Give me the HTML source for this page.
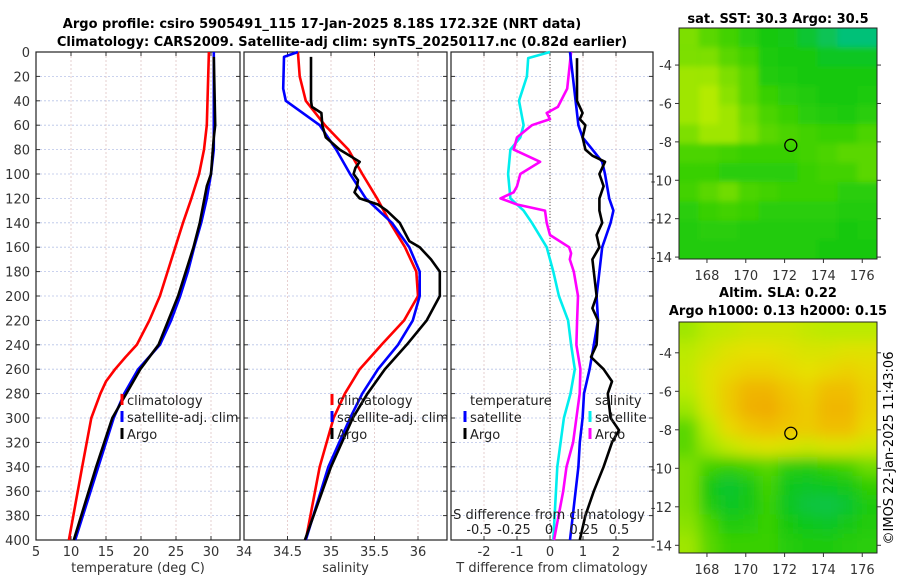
<!DOCTYPE html>
<html><head><meta charset="utf-8">
<style>
html,body{margin:0;padding:0;background:#fff;}
svg{display:block;font-family:"DejaVu Sans","Liberation Sans",sans-serif;}
</style></head>
<body>
<svg id="chart" width="900" height="580" viewBox="0 0 900 580" xmlns="http://www.w3.org/2000/svg">
<defs>
<filter id="blur2" x="-5%" y="-5%" width="110%" height="110%"><feGaussianBlur stdDeviation="7"/></filter>
<filter id="blur1" x="-5%" y="-5%" width="110%" height="110%"><feGaussianBlur stdDeviation="3"/></filter>
<clipPath id="clipM1"><rect x="679" y="28" width="198" height="231"/></clipPath>
<clipPath id="clipM2"><rect x="679" y="322" width="198" height="231"/></clipPath>
</defs>
<text x="322" y="28" font-size="13" font-weight="bold" text-anchor="middle">Argo profile: csiro 5905491_115 17-Jan-2025 8.18S 172.32E (NRT data)</text>
<text x="342" y="46" font-size="13" font-weight="bold" text-anchor="middle">Climatology: CARS2009. Satellite-adj clim: synTS_20250117.nc (0.82d earlier)</text>
<text x="778" y="23" font-size="13" font-weight="bold" text-anchor="middle">sat. SST: 30.3 Argo: 30.5</text>
<text x="778" y="297" font-size="13" font-weight="bold" text-anchor="middle">Altim. SLA: 0.22</text>
<text x="778" y="315" font-size="13" font-weight="bold" text-anchor="middle">Argo h1000: 0.13 h2000: 0.15</text>
<text x="0" y="0" font-size="13" text-anchor="middle" transform="translate(893,448) rotate(-90)">©IMOS 22-Jan-2025 11:43:06</text>
<g id="layer"></g>
</svg>
<script>
// ---------- data ----------
const depthTicks=[0,20,40,60,80,100,120,140,160,180,200,220,240,260,280,300,320,340,360,380,400];
const tempTicks=[5,10,15,20,25,30];
const salTicks=[34,34.5,35,35.5,36];
const tdiffTicks=[-2,-1,0,1,2];
const sdiffTicks=[-0.5,-0.25,0,0.25,0.5];
const sdiffLabels=["-0.5","-0.25","0","0.25","0.5"];

const tClimZ=[0,60,80,100,120,140,160,180,200,220,240,250,260,270,280,300,340,400];
const tClimV=[29.7,29.4,29.0,28.3,27.2,26.0,24.9,23.8,22.7,21.2,19.4,17.8,16.3,15.0,14.2,12.9,11.6,9.7];
const tSatZ=[0,80,100,120,140,160,180,200,220,240,260,280,300,340,400];
const tSatV=[30.4,30.4,30.0,29.4,28.6,27.6,26.7,25.6,24.3,22.7,19.6,17.6,16.1,13.9,10.6];
const tArgoZ=[4,60,70,100,110,140,160,200,240,260,300,340,400];
const tArgoV=[30.4,30.6,30.4,30.0,29.4,28.4,27.5,25.3,22.5,19.9,15.9,13.6,10.4];

const sClimZ=[0,20,40,60,80,100,120,140,160,180,200,220,240,260,280,300,340,400];
const sClimV=[34.62,34.64,34.71,34.93,35.2,35.36,35.53,35.68,35.85,35.98,36.0,35.84,35.58,35.33,35.16,35.03,34.87,34.71];
const sSatZ=[0,4,30,40,60,80,100,120,140,160,180,200,220,240,260,280,300,340,400];
const sSatV=[34.62,34.46,34.45,34.48,34.87,35.06,35.22,35.4,35.7,35.9,36.02,36.02,35.94,35.77,35.54,35.36,35.22,34.97,34.71];
const sArgoZ=[4,40,45,50,60,70,80,90,95,100,105,110,115,120,125,130,140,155,160,170,180,200,220,240,260,280,300,340,400];
const sArgoV=[34.77,34.77,34.78,34.89,34.9,34.94,35.1,35.33,35.28,35.26,35.31,35.3,35.27,35.33,35.54,35.64,35.79,35.9,36.02,36.15,36.25,36.25,36.1,35.87,35.62,35.42,35.25,35.0,34.7];

const dTSatZ=[0,5,20,40,60,70,80,100,120,130,140,160,180,200,220,240,260,280,300,340,400];
const dTSatV=[0.0,-0.66,-0.7,-0.94,-0.8,-0.9,-1.2,-1.27,-1.2,-0.8,-0.55,-0.1,0.1,0.27,0.55,0.64,0.75,0.62,0.42,0.22,0.1];
const dTArgoZ=[0,30,45,50,55,60,70,80,90,100,110,115,120,125,130,140,150,160,165,170,180,200,220,240,260,280,300,320,340,360,400];
const dTArgoV=[0.64,0.52,0.24,-0.1,0.0,-0.55,-1.0,-1.1,-0.3,-0.9,-1.0,-1.1,-1.5,-1.0,-0.15,-0.1,0.0,0.58,0.64,0.6,0.72,0.85,0.82,0.8,0.92,0.9,0.8,0.7,0.5,0.4,0.12];
const dSSatZ=[0,20,40,60,70,80,90,100,120,130,140,160,180,200,220,240,260,280,300,320,340,360,400];
const dSSatV=[0.15,0.17,0.19,0.21,0.24,0.31,0.38,0.4,0.43,0.46,0.44,0.38,0.36,0.34,0.35,0.32,0.29,0.25,0.24,0.22,0.21,0.19,0.15];
const dSArgoZ=[5,40,50,55,60,70,80,85,90,95,100,110,120,130,140,150,160,170,180,200,210,220,240,250,260,270,280,300,310,320,340,360,380,400];
const dSArgoV=[0.2,0.2,0.24,0.22,0.26,0.24,0.26,0.31,0.4,0.38,0.36,0.39,0.36,0.36,0.38,0.34,0.36,0.31,0.32,0.34,0.31,0.35,0.34,0.3,0.39,0.45,0.42,0.44,0.5,0.45,0.39,0.32,0.26,0.22];

const lonTicks=[168,170,172,174,176];
const latTicks=[-4,-6,-8,-10,-12,-14];
const argoLon=172.32, argoLat=-8.18;
const sstField=[
[0.5,0.45,0.4,0.35,0.3,0.28,0.22,0.15,0.08,0.08],
[0.5,0.5,0.45,0.4,0.32,0.3,0.3,0.25,0.25,0.25],
[0.55,0.55,0.5,0.45,0.33,0.32,0.3,0.3,0.3,0.3],
[0.55,0.58,0.52,0.45,0.38,0.35,0.33,0.3,0.3,0.32],
[0.55,0.58,0.55,0.48,0.42,0.38,0.35,0.33,0.32,0.35],
[0.5,0.55,0.55,0.5,0.45,0.42,0.4,0.38,0.38,0.42],
[0.42,0.42,0.4,0.38,0.38,0.38,0.4,0.42,0.45,0.45],
[0.38,0.38,0.35,0.35,0.35,0.35,0.38,0.4,0.4,0.45],
[0.4,0.45,0.48,0.42,0.4,0.38,0.38,0.38,0.35,0.35],
[0.35,0.38,0.4,0.38,0.35,0.35,0.35,0.35,0.33,0.33],
[0.33,0.35,0.35,0.33,0.33,0.33,0.33,0.33,0.3,0.32],
[0.33,0.33,0.33,0.33,0.33,0.33,0.33,0.3,0.3,0.3]];
const slaField=[
[0.55,0.6,0.62,0.65,0.65,0.65,0.62,0.6,0.6,0.6],
[0.6,0.65,0.7,0.72,0.72,0.7,0.68,0.68,0.7,0.7],
[0.62,0.7,0.75,0.78,0.78,0.75,0.72,0.75,0.78,0.75],
[0.6,0.7,0.8,0.88,0.88,0.82,0.78,0.85,0.85,0.78],
[0.55,0.68,0.8,0.9,0.92,0.85,0.8,0.88,0.88,0.78],
[0.45,0.6,0.75,0.82,0.85,0.82,0.8,0.85,0.85,0.75],
[0.45,0.55,0.62,0.68,0.7,0.68,0.65,0.68,0.68,0.65],
[0.5,0.4,0.36,0.4,0.45,0.35,0.33,0.36,0.4,0.48],
[0.5,0.3,0.22,0.27,0.4,0.26,0.24,0.26,0.28,0.36],
[0.5,0.33,0.24,0.28,0.38,0.25,0.2,0.18,0.22,0.32],
[0.52,0.42,0.32,0.34,0.38,0.3,0.26,0.24,0.27,0.33],
[0.55,0.45,0.38,0.38,0.38,0.34,0.32,0.32,0.34,0.35]];

// ---------- helpers ----------
const NS="http://www.w3.org/2000/svg";
const layer=document.getElementById('layer');
function mk(tag,attrs,parent){const e=document.createElementNS(NS,tag);for(const k in attrs)e.setAttribute(k,attrs[k]);(parent||layer).appendChild(e);return e;}
const Y0=52,Y1=540;
const yS=z=>Y0+(z/400)*(Y1-Y0);
const P1={x0:36,x1:240,sx:v=>36+(v-5)*7};
const P2={x0:244,x1:447,sx:v=>244+(v-34)*87};
const P3={x0:451,x1:653,sx:v=>550+v*33};
const sdx=v=>549+v*140;

function panelFrame(P,name,xTicks,xLabels,xs,title,showY){
  const g=mk('g',{});
  
  
  depthTicks.forEach(d=>{
    const gl=mk('line',{x1:P.x0,x2:P.x1,y1:yS(d),y2:yS(d),stroke:'#b8c4e8','stroke-width':0.8,'stroke-dasharray':'2,2'},g);
    
    
    mk('line',{x1:P.x0,x2:P.x0+4,y1:yS(d),y2:yS(d),stroke:'#333'},g);
    mk('line',{x1:P.x1,x2:P.x1-4,y1:yS(d),y2:yS(d),stroke:'#333'},g);
    if(showY){const t=mk('text',{x:30,y:yS(d)+5,'font-size':13,'text-anchor':'end',fill:'#333'},g);t.textContent=d;
      }
  });
  xTicks.forEach((v,i)=>{
    const x=xs(v);
    const gl=mk('line',{x1:x,x2:x,y1:Y0,y2:Y1,stroke:'#e0c4c4','stroke-width':0.8,'stroke-dasharray':'2,2'},g);
    
    
    mk('line',{x1:x,x2:x,y1:Y1,y2:Y1-4,stroke:'#333'},g);
    mk('line',{x1:x,x2:x,y1:Y0,y2:Y0+4,stroke:'#333'},g);
    const t=mk('text',{x:x,y:556,'font-size':13,'text-anchor':'middle',fill:'#333'},g);t.textContent=xLabels[i];
    
  });
  const r=mk('rect',{x:P.x0,y:Y0,width:P.x1-P.x0,height:Y1-Y0,fill:'none',stroke:'#222','stroke-width':1.2},g);
  
  const tt=mk('text',{x:(P.x0+P.x1)/2,y:572,'font-size':13,'text-anchor':'middle',fill:'#333'},g);tt.textContent=title;
  
}
function series(zs,vs,sx,color,name){
  const pts=zs.map((z,i)=>sx(vs[i]).toFixed(1)+','+yS(z).toFixed(1)).join(' ');
  const p=mk('polyline',{points:pts,fill:'none',stroke:color,'stroke-width':2.6,'stroke-linejoin':'round'});
  
  
}
function legend(x,y,items,name){
  const g=mk('g',{});
  
  
  items.forEach((it,i)=>{
    const yy=y+i*17;
    if(it[1]) mk('line',{x1:x,x2:x,y1:yy-11,y2:yy,stroke:it[1],'stroke-width':3},g);
    const t=mk('text',{x:x+5,y:yy,'font-size':13,fill:'#222'},g);t.textContent=it[0];
    
  });
}

// ---------- profile panels ----------
panelFrame(P1,'temperature-panel',tempTicks,tempTicks.map(String),P1.sx,'temperature (deg C)',true);
panelFrame(P2,'salinity-panel',salTicks,salTicks.map(String),P2.sx,'salinity',false);
panelFrame(P3,'difference-panel',tdiffTicks,tdiffTicks.map(String),P3.sx,'T difference from climatology',false);
const zl=mk('line',{x1:P3.sx(0),x2:P3.sx(0),y1:Y0,y2:Y1,stroke:'#555','stroke-width':1,'stroke-dasharray':'1,2'});


series(tClimZ,tClimV,P1.sx,'#ff0000','temp-climatology-line');
series(tSatZ,tSatV,P1.sx,'#0000ff','temp-satellite-line');
series(tArgoZ,tArgoV,P1.sx,'#000000','temp-argo-line');
series(sClimZ,sClimV,P2.sx,'#ff0000','sal-climatology-line');
series(sSatZ,sSatV,P2.sx,'#0000ff','sal-satellite-line');
series(sArgoZ,sArgoV,P2.sx,'#000000','sal-argo-line');
series(dTSatZ,dTSatV,P3.sx,'#00eeee','tdiff-satellite-line');
series(dTArgoZ,dTArgoV,P3.sx,'#ff00ff','tdiff-argo-line');
series(dSSatZ,dSSatV,sdx,'#0000ff','sdiff-satellite-line');
series(dSArgoZ,dSArgoV,sdx,'#000000','sdiff-argo-line');

legend(122,405,[['climatology','#ff0000'],['satellite-adj. clim','#0000ff'],['Argo','#000000']],'temp-legend');
legend(332,405,[['climatology','#ff0000'],['satellite-adj. clim','#0000ff'],['Argo','#000000']],'sal-legend');
legend(465,405,[['temperature',null],['satellite','#0000ff'],['Argo','#000000']],'tdiff-legend');
legend(590,405,[['salinity',null],['satellite','#00eeee'],['Argo','#ff00ff']],'sdiff-legend');

const st=mk('text',{x:549,y:519,'font-size':13,'text-anchor':'middle',fill:'#222'});st.textContent='S difference from climatology';

sdiffTicks.forEach((v,i)=>{const t=mk('text',{x:sdx(v),y:534,'font-size':13,'text-anchor':'middle',fill:'#222'});t.textContent=sdiffLabels[i];
  });

// ---------- maps ----------
const stops=[[0,[0,190,160]],[0.3,[20,200,10]],[0.45,[90,215,0]],[0.58,[180,235,0]],[0.72,[230,225,0]],[0.85,[240,190,0]],[1,[240,150,0]]];
function cmap(v){for(let i=1;i<stops.length;i++){if(v<=stops[i][0]){const a=stops[i-1],b=stops[i],t=(v-a[0])/(b[0]-a[0]);
  const c=a[1].map((x,k)=>Math.round(x+(b[1][k]-x)*t));return 'rgb('+c.join(',')+')';}}return 'rgb(240,150,0)';}
function drawMap(field,top,latTop,latBot,clip,name,blurId,pad){
  const lonL=166.56,lonR=176.76;
  const mx=lon=>679+(lon-lonL)/(lonR-lonL)*198;
  const my=lat=>top+(latTop-lat)/(latTop-latBot)*231;
  const g=mk('g',{'clip-path':'url(#'+clip+')'});
  
  
  mk('rect',{x:679,y:top,width:198,height:231,fill:cmap(field[6][5])},g);
  const gi=mk('g',{filter:'url(#'+blurId+')'},g);
  const nr=field.length,nc=field[0].length;
  const dLon=(lonR-lonL)/nc,dLat=(latTop-latBot)/nr;
  field.forEach((row,r)=>row.forEach((v,c)=>{
    const x0=mx(lonL+c*dLon),y0=my(latTop-r*dLat);
    const ex=(c===0||c===nc-1)?pad:0.5, ey=(r===0||r===nr-1)?pad:0.5;
    const cell=mk('rect',{x:x0-(c===0?pad:0),y:y0-(r===0?pad:0),width:mx(lonL+(c+1)*dLon)-x0+ex,height:my(latTop-(r+1)*dLat)-y0+ey,fill:cmap(v)},gi);
    
    
  }));
  const fr=mk('rect',{x:679,y:top,width:198,height:231,fill:'none',stroke:'#222','stroke-width':1});
  
  const ci=mk('circle',{cx:mx(argoLon),cy:my(argoLat),r:6,fill:'none',stroke:'#000','stroke-width':1.3});
  
  latTicks.forEach(l=>{const y=my(l);
    mk('line',{x1:675,x2:679,y1:y,y2:y,stroke:'#333'});mk('line',{x1:877,x2:881,y1:y,y2:y,stroke:'#333'});
    const t=mk('text',{x:672,y:y+5,'font-size':13,'text-anchor':'end',fill:'#333'});t.textContent=l;
    });
  lonTicks.forEach(l=>{const x=mx(l);
    mk('line',{x1:x,x2:x,y1:top+231,y2:top+235,stroke:'#333'});
    const t=mk('text',{x:x,y:top+252,'font-size':13,'text-anchor':'middle',fill:'#333'});t.textContent=l;
    });
}
drawMap(sstField,28,-2.07,-14.1,'clipM1','sst-map','blur1',8);
drawMap(slaField,322,-2.4,-14.4,'clipM2','sla-map','blur2',14);
</script>
</body></html>
